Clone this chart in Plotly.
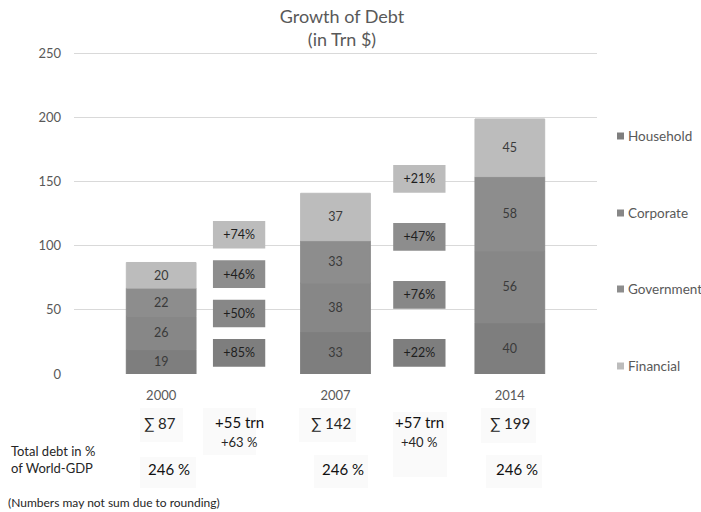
import numpy as np
import plotly.graph_objects as go

# ---- data -------------------------------------------------------------
years = ["2000", "2007", "2014"]
series_names = ["Household", "Corporate", "Government", "Financial"]
household = [19, 33, 40]
corporate = [26, 38, 56]
government = [22, 33, 58]
financial = [20, 37, 45]

totals = [87, 142, 199]                 # trn $, rounded
debt_to_gdp = [246, 246, 246]           # % of world GDP
period_abs_growth = [55, 57]            # trn $
period_pct_growth = [63, 40]            # %

# per-sector growth between snapshots (2000->2007, 2007->2014)
growth_household = [85, 22]
growth_corporate = [50, 76]
growth_government = [46, 47]
growth_financial = [74, 21]

# ---- style ------------------------------------------------------------
W, H = 701, 512
ML, MR, MT, MB = 74, 104, 51, 138
FONT = "Lato"
colors = ["#7e7e7e", "#878787", "#8d8d8d", "#bcbcbc"]
TXT = "#595959"
BAR_W = 0.4
BOX_W = 0.30
BOX_H = 21.5
BOX_X = [0.447, 1.481]

plot_w = W - ML - MR
plot_h = H - MT - MB


def px(x):
    return (x - ML) / plot_w


def py(y):
    return (H - MB - y) / plot_h


series = [household, corporate, government, financial]
growths = [growth_household, growth_corporate, growth_government, growth_financial]
x_years = np.arange(len(years))

fig = go.Figure()

# stacked columns (outline in the fill colour so neighbouring segments join cleanly)
base = np.zeros(len(years))
for name, vals, col in zip(series_names, series, colors):
    v = np.array(vals, dtype=float)
    fig.add_trace(go.Bar(
        x=x_years, y=v, base=base, width=BAR_W, name=name,
        marker=dict(color=col, line=dict(width=1, color=col)),
        text=[str(a) for a in vals], textposition="inside",
        insidetextanchor="middle", textangle=0,
        textfont=dict(family=FONT, size=12.5, color="#3a3a3a"),
        showlegend=False, hoverinfo="skip",
    ))
    base = base + v

# growth boxes between the columns, spread up to ~3/4 of the later column
for p in range(len(BOX_X)):
    top_center = 0.765 * totals[p + 1]
    centers = np.linspace(16.5, top_center, len(series_names))
    for k, (g, col) in enumerate(zip(growths, colors)):
        fig.add_trace(go.Bar(
            x=[BOX_X[p]], y=[BOX_H], base=[centers[k] - BOX_H / 2],
            width=BOX_W, marker=dict(color=col, line=dict(width=0)),
            text=[f"+{g[p]}%"], textposition="inside",
            insidetextanchor="middle", textangle=0,
            textfont=dict(family=FONT, size=12.5, color="#1e1e1e"),
            showlegend=False, hoverinfo="skip",
        ))

shapes = []
annotations = []

# legend, drawn on the right
legend_y = [136, 213, 289, 366]
for name, col, ly in zip(series_names, colors, legend_y):
    shapes.append(dict(type="rect", xref="paper", yref="paper",
                       x0=px(617), x1=px(624), y0=py(ly + 3.5), y1=py(ly - 3.5),
                       fillcolor=col, line=dict(width=0)))
    annotations.append(dict(xref="paper", yref="paper", x=px(626), y=py(ly),
                            text=name, showarrow=False, xanchor="left",
                            yanchor="middle",
                            font=dict(family=FONT, size=13.5, color=TXT)))

# faint panels behind the summary figures
panel_boxes = [
    (140, 183, 408, 442), (203, 256, 408, 455), (140, 196, 457, 488),
    (299, 356, 408, 442), (393, 447, 412, 477), (314, 368, 455, 488),
    (481, 536, 408, 443), (486, 542, 455, 488),
]
for x0, x1, y0, y1 in panel_boxes:
    shapes.append(dict(type="rect", xref="paper", yref="paper",
                       x0=px(x0), x1=px(x1), y0=py(y1), y1=py(y0),
                       fillcolor="#fafafa", line=dict(width=0), layer="below"))

# totals under each year
sum_offsets = [-1.5, -5, 0]
for i, t in enumerate(totals):
    annotations.append(dict(xref="x", yref="paper", x=i + sum_offsets[i] / 174.33,
                            y=py(423), text=f"∑ {t}", showarrow=False,
                            xanchor="center", yanchor="middle",
                            font=dict(family=FONT, size=15, color="#262626")))
    annotations.append(dict(xref="x", yref="paper", x=i + 7.5 / 174.33,
                            y=py(469), text=f"{debt_to_gdp[i]} %", showarrow=False,
                            xanchor="center", yanchor="middle",
                            font=dict(family=FONT, size=15, color="#111111")))

# growth between snapshots
for p in range(len(BOX_X)):
    annotations.append(dict(xref="x", yref="paper", x=BOX_X[p], y=py(422),
                            text=f"+{period_abs_growth[p]} trn", showarrow=False,
                            xanchor="center", yanchor="middle",
                            font=dict(family=FONT, size=15, color="#111111")))
    annotations.append(dict(xref="x", yref="paper", x=BOX_X[p], y=py(442),
                            text=f"+{period_pct_growth[p]} %", showarrow=False,
                            xanchor="center", yanchor="middle",
                            font=dict(family=FONT, size=13, color="#262626")))

annotations.append(dict(xref="paper", yref="paper", x=px(9), y=py(459),
                        text="Total debt in %<br>of World-GDP", showarrow=False,
                        xanchor="left", yanchor="middle", align="left",
                        font=dict(family=FONT, size=13, color="#262626")))
annotations.append(dict(xref="paper", yref="paper", x=px(6), y=py(502),
                        text="(Numbers may not sum due to rounding)", showarrow=False,
                        xanchor="left", yanchor="middle", align="left",
                        font=dict(family=FONT, size=12, color="#262626")))

fig.update_layout(
    width=W, height=H,
    margin=dict(l=ML, r=MR, t=MT, b=MB),
    paper_bgcolor="white", plot_bgcolor="white",
    barmode="overlay",
    title=dict(text="Growth of Debt<br>(in Trn $)", x=342 / W, xref="container",
               xanchor="center", y=1 - 23 / H, yref="container", yanchor="middle",
               font=dict(family=FONT, size=18, color=TXT)),
    xaxis=dict(range=[-0.5, 2.5], tickvals=list(x_years), ticktext=years,
               showgrid=False, zeroline=False, showline=False, ticks="",
               ticklabelstandoff=12,
               tickfont=dict(family=FONT, size=13, color=TXT)),
    yaxis=dict(range=[0, 252], tickvals=[0, 50, 100, 150, 200, 250],
               showgrid=True, gridcolor="#d9d9d9", gridwidth=1,
               zeroline=False, showline=False, ticks="",
               ticklabelstandoff=12,
               tickfont=dict(family=FONT, size=13, color=TXT)),
    shapes=shapes,
    annotations=annotations,
    showlegend=False,
)

fig.write_html("out.html")
